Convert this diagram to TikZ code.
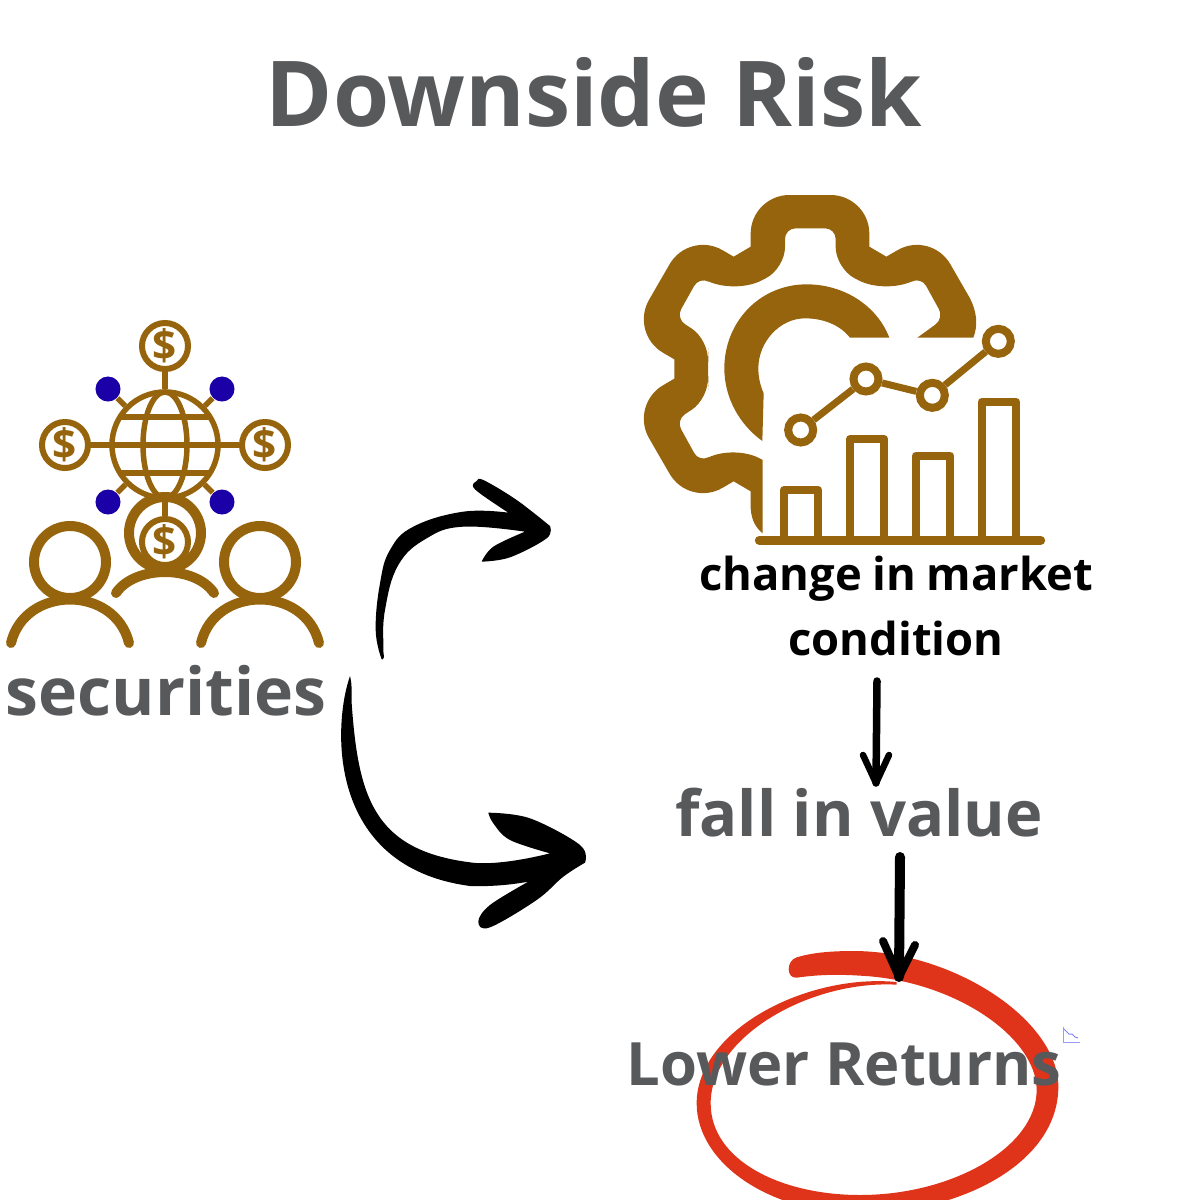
\documentclass[tikz,border=0pt]{standalone}
\usepackage{fontspec}
\setmainfont{Open Sans}
\usepackage{tikz}
\definecolor{ochre}{HTML}{96640C}
\definecolor{slate}{HTML}{58595B}
\definecolor{marker}{HTML}{E0341A}
\definecolor{ink}{HTML}{1A00A6}
\tikzset{label/.style={inner sep=0pt,font=\bfseries,align=center}}
\tikzset{hand/.style={line width=#1,line cap=round,line join=round,black}}
\def\pixel{0.01cm}

\begin{document}
\begin{tikzpicture}[x=\pixel,y=-\pixel]
    \tikzstyle{coin}=[circle,draw=ochre,fill=white,line width=0.06cm,minimum size=0.46cm,inner sep=0pt,text=ochre,font=\fontsize{12}{12}\bfseries]
    \tikzstyle{blob}=[circle,fill=ink,minimum size=0.25cm,inner sep=0pt]
    \tikzstyle{spot}=[circle,draw=ochre,fill=white,line width=0.08cm,minimum size=0.25cm,inner sep=0pt]
    \tikzstyle{wire}=[draw=ochre,line width=0.055cm]
    \tikzstyle{limb}=[draw=ochre,line width=0.1cm,line cap=round]
    \tikzstyle{bar}=[draw=ochre,line width=0.08cm,line join=round]
    \useasboundingbox (0,0) rectangle (1200,1200);

    % Draw the red loop first, the texts and arrows lie on it
    \begin{scope}[shift={(620,930)},scale=1/3]
        \fill[marker] (830,156) .. controls (560,130) and (230,300) .. (230,520)
            .. controls (230,700) and (450,850) .. (720,850)
            .. controls (1020,850) and (1315,700) .. (1315,470)
            .. controls (1315,270) and (1000,63) .. (700,63)
            .. controls (620,63) and (570,70) .. (530,82)
            .. controls (498,92) and (498,146) .. (530,143)
            .. controls (600,133) and (660,133) .. (720,137)
            .. controls (1000,150) and (1250,320) .. (1250,480)
            .. controls (1250,650) and (1000,795) .. (720,795)
            .. controls (480,795) and (272,690) .. (272,520)
            .. controls (272,320) and (570,150) .. (830,164) -- cycle;
    \end{scope}

    % Draw the people and the globe
    \foreach \x / \y in {70/562,260/562,165/533}
        \draw[limb] (\x,\y) circle [radius=36];
    \node[coin] (C-1) at (165,346) {\$};
    \node[coin] (C-2) at (65,445) {\$};
    \node[coin] (C-3) at (265,445) {\$};
    \node[coin] (C-4) at (165,542) {\$};
    \node[circle,draw=ochre,line width=0.055cm,minimum size=1.06cm,inner sep=0pt] (globe) at (165,445) {};
    \draw[wire] (165,445) ellipse [x radius=22,y radius=53];
    \draw[wire] (120,417) -- (210,417);
    \draw[wire] (120,473) -- (210,473);
    \draw[wire] (C-2) -- (C-3);
    \foreach \dest in {1,4}
        \draw[wire] (globe) -- (C-\dest);
    \foreach \name / \x / \y in {1/108/389,2/222/389,3/108/502,4/222/502}
    {
        \node[blob] (B-\name) at (\x,\y) {};
        \draw[wire] (globe) -- (B-\name);
    }
    \draw[limb] (11,643) .. controls (25,585) and (115,585) .. (129,643);
    \draw[limb] (201,643) .. controls (215,585) and (305,585) .. (319,643);
    \draw[limb] (116,593) .. controls (135,565) and (195,565) .. (214,593);

    % Draw the gear, open towards the chart
    \begin{scope}[shift={(630,185)},scale=1/3]
        \fill[ochre,even odd rule] (1030,458) .. controls (1045,420) and (1040,380) .. (1020,340)
            [rounded corners=11pt] -- (903,137) [sharp corners] -- (769,215) -- (718,185) [rounded corners=11pt] -- (718,30) -- (362,30) [sharp corners] -- (362,185) -- (311,215)
            [rounded corners=11pt] -- (177,137) -- (-1,445) [sharp corners] -- (133,523) -- (133,581) [rounded corners=11pt] -- (-1,659) -- (177,967) [sharp corners] -- (311,889) -- (362,919) -- (362,970)
            .. controls (365,1010) and (380,1030) .. (398,1045) -- (398,825)
            [rounded corners=9pt] -- (310,775) [rounded corners=3pt] -- (208,832) -- (138,705) [rounded corners=6pt] -- (238,640) -- (232,552) -- (238,465) [rounded corners=3pt] -- (138,400) -- (208,275) [rounded corners=9pt] -- (310,330) [rounded corners=6pt] -- (465,250) [rounded corners=3pt] -- (465,130) -- (617,130) [rounded corners=6pt] -- (617,250) [rounded corners=9pt] -- (770,330) [rounded corners=3pt] -- (873,275) -- (942,400) [sharp corners] -- (862,458) -- cycle;
        \fill[ochre] (778,458) .. controls (740,360) and (640,298) .. (530,298)
            .. controls (390,298) and (283,410) .. (283,550)
            .. controls (283,640) and (330,720) .. (397,768) -- (401,625)
            .. controls (390,600) and (385,575) .. (385,550)
            .. controls (385,470) and (450,400) .. (525,400)
            .. controls (580,400) and (630,420) .. (660,458) -- cycle;

        % Draw the bars and the line over them
        \foreach \barx / \bary in {462/915,660/762,858/812,1055/650}
            \draw[bar] (\barx,1066) |- (\barx+103,\bary) -- (\barx+103,1066);
        \draw[draw=ochre,line width=0.09cm,line cap=round] (388,1066) -- (1232,1066);
        \foreach \name / \x / \y in {1/512/735,2/708/582,3/907/631,4/1105/469}
            \node[spot] (P-\name) at (\x,\y) {};
        \foreach \source / \dest in {1/2,2/3,3/4}
            \draw[draw=ochre,line width=0.07cm] (P-\source) -- (P-\dest);
    \end{scope}

    % Annotate the picture
    \node[label,text=slate,font=\fontsize{25.85}{26}\bfseries] (title) at (594,92) {Downside Risk};
    \node[label,text=slate,font=\fontsize{18.8}{18.8}\bfseries] (sec) at (166,691) {securities};
    \node[label,font=\fontsize{12.9}{18.7}\bfseries] (cond) at (896,606) {\spaceskip=3pt change in market\\condition};
    \node[label,text=slate,font=\fontsize{18}{18}\bfseries] (fall) at (859,813) {fall in value};
    \node[label,text=slate,font=\fontsize{17}{17}\bfseries] (low) at (844,1064) {Lower Returns};

    % The two swooping arrows, the tips lie at the named ends
    \begin{scope}[shift={(330,470)},scale=1/3]
        \coordinate (sec-up) at (155,568);
        \coordinate (gear-in) at (660,168);
        \coordinate (sec-down) at (60,618);
        \coordinate (fall-in) at (765,1178);
        \fill[black] (sec-up) -- plot[smooth,tension=0.7] coordinates {(155,568) (137,480) (150,340) (180,240) (250,170) (400,125) (535,128)}
            -- plot[smooth,tension=0.6] coordinates {(535,128) (435,58) (440,33) (462,31) (560,90) (660,168)}
            -- (gear-in) -- plot[smooth,tension=0.6] coordinates {(660,168) (650,205) (540,262) (455,275)}
            -- plot[smooth,tension=0.6] coordinates {(455,275) (490,230) (585,185)}
            -- plot[smooth,tension=0.7] coordinates {(585,185) (400,170) (290,205) (205,285) (165,420) (160,530) (162,562) (155,568)} -- cycle;
        \fill[black] (sec-down) .. controls (10,760) and (-15,1190) .. (420,1248)
            .. controls (480,1250) and (540,1245) .. (595,1235)
            -- plot[smooth,tension=0.6] coordinates {(595,1235) (480,1305) (445,1355) (480,1372) (620,1290) (700,1220) (765,1178)}
            -- (fall-in) -- plot[smooth,tension=0.6] coordinates {(765,1178) (750,1125) (600,1045) (475,1028)}
            -- plot[smooth,tension=0.6] coordinates {(475,1028) (490,1060) (540,1110) (660,1150)}
            .. controls (560,1175) and (470,1185) .. (420,1177)
            .. controls (130,1140) and (85,980) .. (65,700)
            .. controls (63,670) and (68,650) .. (sec-down) -- cycle;
    \end{scope}

    % The two straight arrows
    \coordinate (cond-out) at (877,681);
    \coordinate (fall-top) at (876,783);
    \coordinate (fall-out) at (900,857);
    \coordinate (loop-top) at (899,977);
    \draw[hand=0.075cm] (cond-out) -- (fall-top);
    \draw[hand=0.065cm] (863,755) -- (fall-top) -- (889,755);
    \draw[hand=0.1cm] (fall-out) -- (loop-top);
    \draw[hand=0.08cm] (883,941) -- (loop-top) -- (915,945);

    % The faint mark right of the loop
    \draw[blue!40!white,line width=0.01cm] (1063,1027) -- (1063,1042) -- (1080,1042);
    \draw[blue!50!white,line width=0.01cm] (1064,1029) -- (1069,1034) -- (1072,1034) -- (1075,1037) -- (1078,1038);
\end{tikzpicture}
\end{document}
